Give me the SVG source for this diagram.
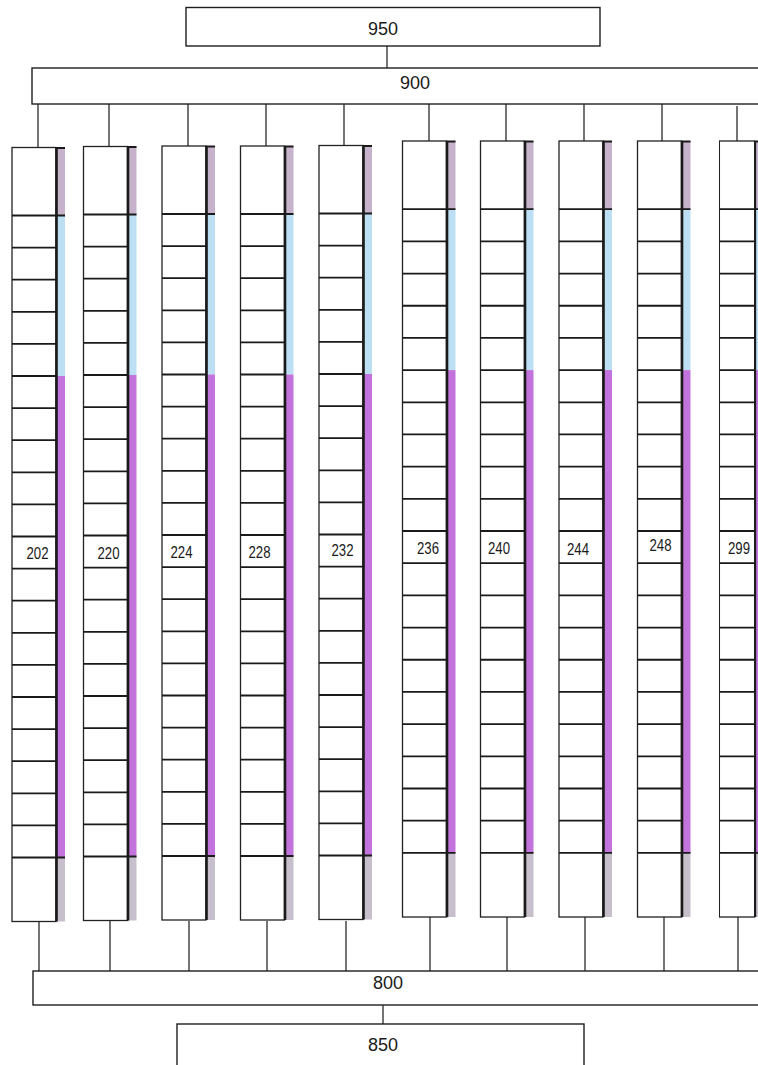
<svg xmlns="http://www.w3.org/2000/svg" xmlns:xlink="http://www.w3.org/1999/xlink" width="758" height="1065" viewBox="0 0 758 1065">
<style>
.box{fill:#fff;stroke:#1e1e1e;stroke-width:1.4}
.big{font-family:"Liberation Sans",Arial,sans-serif;font-size:18px;fill:#1a1a1a;text-anchor:middle}
.lbl{font-family:"Liberation Sans",Arial,sans-serif;font-size:16px;fill:#1a1a1a;text-anchor:middle}
.conn line{stroke:#2a2a2a;stroke-width:1.3}
.div{fill:none;stroke:#1a1a1a;stroke-width:1.8}
</style>
<defs>
<g id="colT">
<rect x="0" y="0" width="44" height="774" fill="#fff" stroke="#222" stroke-width="1.3"/>
<rect x="45" y="0" width="8" height="68" fill="#c6b3cb"/>
<rect x="45" y="68" width="8" height="160.5" fill="#bcdff3"/>
<rect x="45" y="228.5" width="8" height="481.5" fill="#c274dc"/>
<rect x="45" y="710" width="8" height="64" fill="#c8bfcc"/>
<path class="div" d="M44,0.5h9 M0,68h53 M0,100.1h44 M0,132.2h44 M0,164.3h44 M0,196.4h44 M0,228.5h44 M0,260.6h44 M0,292.7h44 M0,324.8h44 M0,356.9h44 M0,389h44 M0,421.1h44 M0,453.2h44 M0,485.3h44 M0,517.4h44 M0,549.5h44 M0,581.6h44 M0,613.7h44 M0,645.8h44 M0,677.9h44 M0,710h53"/>
<line x1="44.5" y1="0" x2="44.5" y2="774" stroke="#1a1a1a" stroke-width="2.6"/>
</g>
</defs>
<rect width="758" height="1065" fill="#fff"/>

<g id="connectors" class="conn">
<line x1="387" y1="46" x2="387" y2="68"/>
<line x1="38" y1="104" x2="38" y2="147"/>
<line x1="109" y1="104" x2="109" y2="146"/>
<line x1="188" y1="104" x2="188" y2="146"/>
<line x1="266" y1="104" x2="266" y2="146"/>
<line x1="344" y1="104" x2="344" y2="145"/>
<line x1="429" y1="104" x2="429" y2="141"/>
<line x1="506" y1="104" x2="506" y2="141"/>
<line x1="584" y1="104" x2="584" y2="141"/>
<line x1="662" y1="104" x2="662" y2="141"/>
<line x1="737" y1="106" x2="737" y2="141"/>
<line x1="39" y1="921" x2="39" y2="971"/>
<line x1="110" y1="921" x2="110" y2="971"/>
<line x1="189" y1="921" x2="189" y2="971"/>
<line x1="267" y1="921" x2="267" y2="971"/>
<line x1="346" y1="921" x2="346" y2="971"/>
<line x1="430" y1="917" x2="430" y2="971"/>
<line x1="507" y1="917" x2="507" y2="971"/>
<line x1="585" y1="917" x2="585" y2="971"/>
<line x1="664" y1="917" x2="664" y2="971"/>
<line x1="738" y1="917" x2="738" y2="971"/>
<line x1="383" y1="1005" x2="383" y2="1024"/>
</g>

<g id="n950"><rect class="box" x="186" y="7.5" width="414" height="38.5"/><text class="big" x="383" y="35">950</text></g>
<g id="n900"><rect class="box" x="32" y="68" width="740" height="36"/><text class="big" x="415" y="89">900</text></g>
<g id="n800"><rect class="box" x="33" y="971" width="740" height="34"/><text class="big" x="388" y="989">800</text></g>
<g id="n850"><rect class="box" x="177" y="1024" width="407" height="50"/><text class="big" x="383" y="1051">850</text></g>

<g id="c202"><use xlink:href="#colT" transform="translate(12,147.5)"/><text class="lbl" x="37.5" y="558.5" textLength="22" lengthAdjust="spacingAndGlyphs">202</text></g>
<g id="c220"><use xlink:href="#colT" transform="translate(83.5,146.5)"/><text class="lbl" x="108.5" y="558.5" textLength="22" lengthAdjust="spacingAndGlyphs">220</text></g>
<g id="c224"><use xlink:href="#colT" transform="translate(162,146)"/><text class="lbl" x="181.5" y="557.5" textLength="22" lengthAdjust="spacingAndGlyphs">224</text></g>
<g id="c228"><use xlink:href="#colT" transform="translate(240.5,146)"/><text class="lbl" x="259.5" y="557.5" textLength="22" lengthAdjust="spacingAndGlyphs">228</text></g>
<g id="c232"><use xlink:href="#colT" transform="translate(319,145.5)"/><text class="lbl" x="342.5" y="555.5" textLength="22" lengthAdjust="spacingAndGlyphs">232</text></g>
<g id="c236"><use xlink:href="#colT" transform="translate(402.5,141) scale(1,1.0026)"/><text class="lbl" x="428" y="554" textLength="22" lengthAdjust="spacingAndGlyphs">236</text></g>
<g id="c240"><use xlink:href="#colT" transform="translate(480.5,141) scale(1,1.0026)"/><text class="lbl" x="499" y="554" textLength="22" lengthAdjust="spacingAndGlyphs">240</text></g>
<g id="c244"><use xlink:href="#colT" transform="translate(559,141) scale(1,1.0026)"/><text class="lbl" x="578" y="554.5" textLength="22" lengthAdjust="spacingAndGlyphs">244</text></g>
<g id="c248"><use xlink:href="#colT" transform="translate(637.5,141) scale(1,1.0026)"/><text class="lbl" x="660.5" y="550.5" textLength="22" lengthAdjust="spacingAndGlyphs">248</text></g>
<g id="c299"><use xlink:href="#colT" transform="translate(719.5,141) scale(0.8,1.0026)"/><text class="lbl" x="739" y="554" textLength="22" lengthAdjust="spacingAndGlyphs">299</text></g>
</svg>
